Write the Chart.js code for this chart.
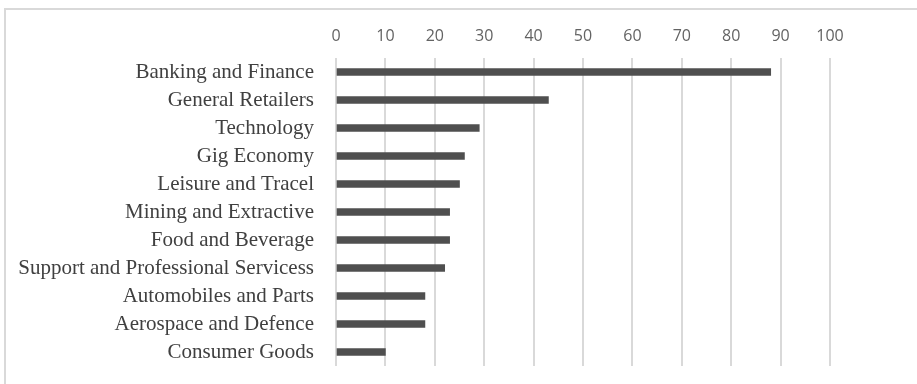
<!DOCTYPE html>
<html>
<head>
<meta charset="utf-8">
<script src="https://cdn.jsdelivr.net/npm/chart.js@4"></script>
<style>
	body { margin: 0; background: #fff; }
	#wrap { position: relative; width: 917px; height: 384px; }
	#frame { position: absolute; left: 4px; top: 8px; right: 0; bottom: 0;
		border-left: 2px solid #d9d9d9; border-top: 2px solid #d9d9d9; pointer-events: none; }
</style>
</head>
<body>
<div id="wrap">
	<canvas id="myChart" width="917" height="384"></canvas>
	<div id="frame"></div>
</div>
<script>
var sectors = [
	"Banking and Finance",
	"General Retailers",
	"Technology",
	"Gig Economy",
	"Leisure and Tracel",
	"Mining and Extractive",
	"Food and Beverage",
	"Support and Professional Servicess",
	"Automobiles and Parts",
	"Aerospace and Defence",
	"Consumer Goods"
];
var counts = [88, 43, 29, 26, 25, 23, 23, 22, 18, 18, 10];
var xTicks = [0, 10, 20, 30, 40, 50, 60, 70, 80, 90, 100];

new Chart("myChart", {
	type: "bar",
	data: {
		labels: sectors,
		datasets: [{
			data: counts,
			backgroundColor: "#4f4f4f",
			barThickness: 7
		}]
	},
	options: {
		indexAxis: "y",
		responsive: false,
		animation: false,
		layout: { padding: { top: 0, right: 87, bottom: 18, left: 0 } },
		plugins: {
			legend: { display: false },
			tooltip: { enabled: false }
		},
		scales: {
			x: {
				position: "top",
				min: xTicks[0],
				max: xTicks[xTicks.length - 1],
				afterBuildTicks: function(scale) {
					scale.ticks = xTicks.map(function(v) { return { value: v }; });
				},
				afterFit: function(scale) { scale.height = 58; },
				grid: { color: "#d9d9d9", lineWidth: 2, drawTicks: false },
				border: { display: false },
				ticks: {
					padding: 12,
					color: "#636363",
					font: { family: "Open Sans", size: 16 }
				}
			},
			y: {
				// fixed width so the plot starts where the original does
				afterFit: function(scale) {
					scale.width = 336;
					scale.paddingTop = 0;
					scale.paddingBottom = 0;
				},
				grid: { display: false, drawTicks: false },
				border: { display: false },
				ticks: {
					autoSkip: false,
					padding: 22,
					color: "#404040",
					font: { family: "Liberation Serif", size: 21 }
				}
			}
		}
	}
});
</script>
</body>
</html>
